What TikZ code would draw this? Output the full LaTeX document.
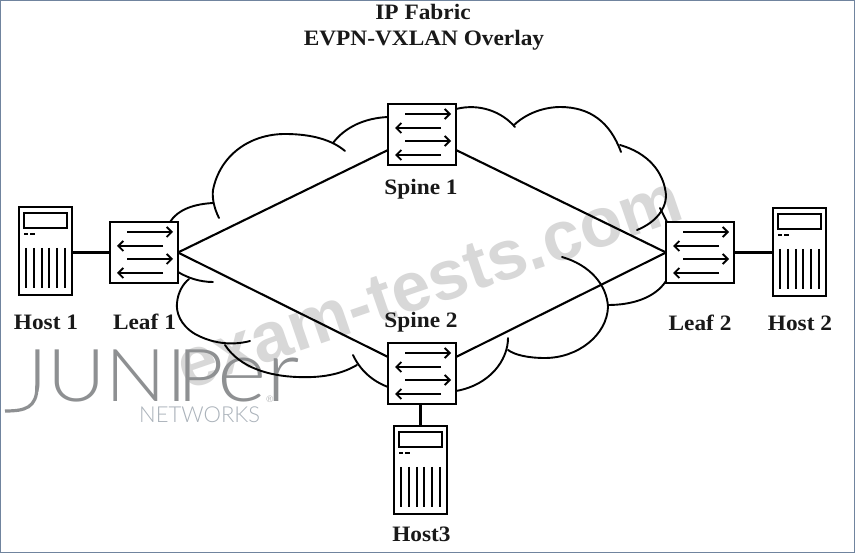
\documentclass[tikz,border=0pt]{standalone}
\usepackage{fontspec}
\setmainfont{Liberation Serif}
\newfontfamily\wmfont{Liberation Sans}
\newfontfamily\logofont{Lato Light}
\usetikzlibrary{arrows.meta}
\definecolor{frameblue}{RGB}{112,132,158}
\definecolor{wmgray}{RGB}{216,216,216}
\definecolor{logogray}{RGB}{142,144,146}
\definecolor{netgray}{RGB}{170,178,186}
\tikzset{
  lnk/.style={line width=2.1pt,black},
  cloudline/.style={line width=1.9pt,black,line cap=round},
  swbox/.style={draw=black,line width=2.1pt,fill=white,minimum width=68pt,minimum height=61pt,inner sep=0pt,outer sep=0pt},
  hostbox/.style={draw=black,line width=2.1pt,fill=white,minimum width=53pt,minimum height=88pt,inner sep=0pt,outer sep=0pt},
  lab/.style={font=\bfseries\fontsize{22}{24}\selectfont,inner sep=0pt,text=black!90,xscale=1.06,anchor=base},
  arw/.style={line width=1.9pt,-{Straight Barb[length=5pt,width=10pt,line width=1.9pt]}},
  hl/.style={line width=1.9pt},
}
\newcommand{\swicons}[1]{%
  \draw[arw] ([shift={(17,10)}]#1.north west) -- ++(46,0);
  \draw[arw] ([shift={(53,24)}]#1.north west) -- ++(-46,0);
  \draw[arw] ([shift={(17,37)}]#1.north west) -- ++(46,0);
  \draw[arw] ([shift={(53,51)}]#1.north west) -- ++(-46,0);
}
\newcommand{\hosticons}[1]{%
  \draw[hl] ([shift={(5,6)}]#1.north west) rectangle ([shift={(48,21)}]#1.north west);
  \draw[line width=1.8pt] ([shift={(5,27)}]#1.north west) -- ++(4,0);
  \draw[line width=1.8pt] ([shift={(11,27)}]#1.north west) -- ++(5,0);
  \foreach \bx in {7,15,23,30,38,46}
    \draw[line width=2pt] ([shift={(\bx,41)}]#1.north west) -- ++(0,40);
}
\begin{document}
\begin{tikzpicture}[x=1pt,y=-1pt]
\useasboundingbox (0,0) rectangle (855,553);
\fill[white] (0,0) rectangle (855,553);
\draw[frameblue,line width=1.5pt] (0.7,0.7) rectangle (854.3,552.3);
% watermark
\node[rotate=19,font=\wmfont\bfseries\fontsize{70}{72}\selectfont,text=wmgray,inner sep=0pt] (wm) at (429,283) {exam-tests.com};
% logo
\node[anchor=base west,font=\logofont\fontsize{73}{75}\selectfont,text=logogray,inner sep=0pt,xscale=1.1] (logo) at (14,402) {JUNI\kern-9pt P\kern-6pt{\fontsize{86}{88}\selectfont er}};
\fill[white] (12,380) rectangle (34.5,408);
\coordinate (jtail) at (5,411);
\draw[logogray,line width=3.2pt] (jtail) .. controls (25,411) and (37,408) .. (37,386);
\node[font=\logofont\fontsize{9}{10}\selectfont,text=logogray,inner sep=0pt] (reg) at (270,399) {®};
\node[anchor=base west,font=\logofont\fontsize{22}{24}\selectfont,text=netgray,inner sep=0pt] (net) at (139,423) {NETWORKS};
% cloud
\draw[cloudline] (170,222) .. controls (178,209) and (195,204) .. (213,203);
\draw[cloudline] (219,218) .. controls (214,208) and (212,198) .. (213,190) .. controls (220,155) and (250,134) .. (285,134) .. controls (312,134) and (332,140) .. (345,151);
\draw[cloudline] (333,143) .. controls (345,127) and (365,118) .. (388,117);
\draw[cloudline] (456,109) .. controls (480,103) and (502,112) .. (515,127);
\draw[cloudline] (514,125) .. controls (530,110) and (550,107) .. (560,107) .. controls (590,107) and (610,122) .. (621,152);
\draw[cloudline] (620,145) .. controls (648,153) and (664,172) .. (666,195) .. controls (666,212) and (652,224) .. (637,230);
\draw[cloudline] (660,208) -- (667,222);
\draw[cloudline] (666,281) .. controls (655,298) and (632,305) .. (608,305);
\draw[cloudline] (562,257) .. controls (590,265) and (607,285) .. (608,307) .. controls (607,335) and (578,358) .. (545,358) .. controls (528,358) and (515,355) .. (508,350);
\draw[cloudline] (508,338) .. controls (508,360) and (490,385) .. (456,391);
\draw[cloudline] (388,387) .. controls (372,381) and (360,370) .. (353,355);
\draw[cloudline] (357,365) .. controls (340,375) and (320,378) .. (297,377) .. controls (270,376) and (240,368) .. (225,345);
\draw[cloudline] (250,341) .. controls (235,345) and (215,345) .. (195,334) .. controls (180,325) and (176,312) .. (177,303) .. controls (178,292) and (183,284) .. (189,279);
\draw[cloudline] (178,272) .. controls (188,278) and (200,282) .. (213,282);
% nodes
\node[swbox] (leaf1) at (144,252.5) {};
\node[swbox] (spine1) at (422,134.5) {};
\node[swbox] (spine2) at (422,373.5) {};
\node[swbox] (leaf2) at (700,252.5) {};
\node[hostbox] (host1) at (45.5,251) {};
\node[hostbox] (host2) at (799.5,252) {};
\node[hostbox] (host3) at (420.5,470) {};
\swicons{leaf1}\swicons{spine1}\swicons{spine2}\swicons{leaf2}
\hosticons{host1}\hosticons{host2}\hosticons{host3}
% links
\draw[lnk] (host1.east |- leaf1.west) -- (leaf1.west);
\draw[lnk] (leaf2.east) -- (host2.west |- leaf2.east);
\draw[lnk] (spine2.south -| host3.north) -- (host3.north);
\draw[lnk] (leaf1.east) -- ([yshift=-15.5pt]spine1.west);
\draw[lnk] (leaf1.east) -- ([yshift=16.5pt]spine2.west);
\draw[lnk] ([yshift=-15.5pt]spine1.east) -- (leaf2.west);
\draw[lnk] ([yshift=16.5pt]spine2.east) -- (leaf2.west);
% labels
\node[lab] (t1) at (423,20) {IP Fabric};
\node[lab] (t2) at (424,46) {EVPN-VXLAN Overlay};
\node[lab] (l1) at (46,330) {Host 1};
\node[lab] (l2) at (144.5,330) {Leaf 1};
\node[lab] (l3) at (421,195) {Spine 1};
\node[lab] (l4) at (421,328) {Spine 2};
\node[lab] (l5) at (700,331) {Leaf 2};
\node[lab] (l6) at (800,331) {Host 2};
\node[lab] (l7) at (421.5,541) {Host3};
\end{tikzpicture}
\end{document}
